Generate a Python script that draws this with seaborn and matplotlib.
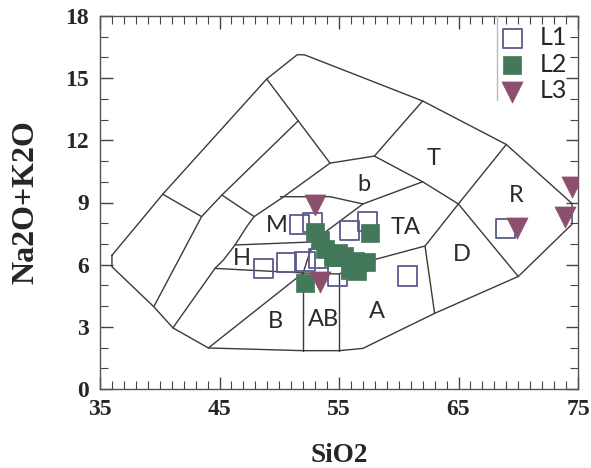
import numpy as np
import pandas as pd
import seaborn as sns
import matplotlib
matplotlib.use("Agg")
import matplotlib.pyplot as plt
from matplotlib.ticker import MultipleLocator

# ---------------- data ----------------
l1_sio2 = [51.7, 52.8, 48.7, 50.6, 52.15, 53.3, 54.9, 55.9, 57.4, 60.7, 68.9]
l1_alk = [7.92, 8.03, 5.82, 6.10, 6.14, 6.31, 5.45, 7.63, 8.07, 5.45, 7.75]

l2_sio2 = [53.0, 53.4, 53.8, 54.5, 54.9, 55.4, 56.3, 55.9, 56.5, 57.3, 57.6, 52.15]
l2_alk = [7.60, 7.20, 6.75, 6.35, 6.55, 6.40, 6.20, 5.75, 5.70, 6.15, 7.55, 5.10]

l3_sio2 = [53.0, 53.4, 69.9, 74.5, 73.9]
l3_alk = [8.88, 5.18, 7.75, 9.76, 8.32]

x_ticks = [35, 45, 55, 65, 75]
y_ticks = [0, 3, 6, 9, 12, 15, 18]

# TAS field boundaries (SiO2, Na2O+K2O)
outer_boundary = [(36.0, 6.45), (36.0, 5.9), (39.5, 3.97), (41.1, 2.95), (44.07, 1.98),
                  (52.0, 1.85), (55.0, 1.85), (57.0, 1.96), (63.0, 3.65), (70.0, 5.43),
                  (74.5, 7.95), (74.5, 8.95), (69.0, 11.8), (62.0, 13.9), (52.1, 16.13),
                  (51.5, 16.13), (48.95, 14.96), (40.25, 9.4), (36.0, 6.45)]
field_lines = [
    [(40.25, 9.4), (43.5, 8.32), (39.5, 3.97)],
    [(43.5, 8.32), (45.2, 9.36), (51.6, 12.95)],
    [(45.2, 9.36), (47.9, 8.32)],
    [(48.95, 14.96), (54.25, 10.9), (57.96, 11.24), (62.0, 13.9)],
    [(47.9, 8.32), (47.27, 7.83), (46.3, 6.95), (45.32, 6.22), (44.62, 5.82), (41.1, 2.95)],
    [(47.9, 8.32), (50.3, 9.25), (54.25, 10.9)],
    [(50.1, 9.28), (54.25, 9.28), (57.0, 8.93), (62.0, 10.0), (64.99, 8.93)],
    [(57.96, 11.24), (62.0, 10.0)],
    [(64.99, 8.93), (69.0, 11.8)],
    [(64.99, 8.93), (70.0, 5.43)],
    [(64.99, 8.93), (62.2, 6.9), (63.0, 3.65)],
    [(62.2, 6.9), (57.87, 6.23), (55.0, 5.55)],
    [(44.62, 5.82), (52.0, 5.6), (55.0, 5.55)],
    [(46.3, 6.95), (52.95, 7.1)],
    [(52.0, 5.6), (52.5, 6.5), (52.95, 7.1), (53.8, 7.55), (57.0, 8.93)],
    [(52.0, 5.6), (52.0, 1.85)],
    [(55.0, 5.55), (55.0, 1.85)],
    [(52.0, 5.6), (44.07, 1.98)],
]
field_names = ["M", "H", "b", "T", "TA", "R", "D", "A", "AB", "B"]
field_x = [49.8, 46.9, 57.1, 62.9, 60.6, 69.8, 65.3, 58.15, 53.7, 49.65]
field_y = [7.87, 6.30, 9.88, 11.13, 7.79, 9.36, 6.47, 3.73, 3.33, 3.25]

# ---------------- styling ----------------
sns.set_style("ticks")
plt.rcParams["font.family"] = ["DejaVu Sans"]

fig = plt.figure(figsize=(5.91, 4.68), dpi=100)
ax = fig.add_axes([100 / 591, 1 - 389 / 468, 478 / 591, 373 / 468])

line_col = "#3a3a3a"
for seg in [outer_boundary] + field_lines:
    xs, ys = zip(*seg)
    ax.plot(xs, ys, color=line_col, lw=1.0, zorder=1)

for name, fx, fy in zip(field_names, field_x, field_y):
    ax.text(fx, fy, name, ha="center", va="center", fontsize=17,
            family="Lato", color="#2a2a2a", zorder=2)

df1 = pd.DataFrame({"SiO2": l1_sio2, "alk": l1_alk})
df2 = pd.DataFrame({"SiO2": l2_sio2, "alk": l2_alk})
df3 = pd.DataFrame({"SiO2": l3_sio2, "alk": l3_alk})

sns.scatterplot(data=df1, x="SiO2", y="alk", marker="s", s=190, facecolor="none",
                edgecolor="#5b5a8e", linewidth=1.3, label="L1", ax=ax, zorder=3)
sns.scatterplot(data=df2, x="SiO2", y="alk", marker="s", s=180, color="#44785a",
                edgecolor="#44785a", linewidth=0.5, label="L2", ax=ax, zorder=4)
sns.scatterplot(data=df3, x="SiO2", y="alk", marker="v", s=230, color="#8c4f6e",
                edgecolor="#8c4f6e", linewidth=0.5, label="L3", ax=ax, zorder=5)

ax.set_xlim(35, 75)
ax.set_ylim(0, 18)
tick_font = dict(family="Liberation Serif", fontweight="bold", fontsize=17)
ax.set_xticks(x_ticks, labels=[str(v) for v in x_ticks], **tick_font)
ax.set_yticks(y_ticks, labels=[str(v) for v in y_ticks], **tick_font)
ax.xaxis.set_minor_locator(MultipleLocator(1))
ax.yaxis.set_minor_locator(MultipleLocator(1))
ax.tick_params(which="both", direction="in", top=True, right=True, color="#444444")
ax.tick_params(which="major", length=9, width=1.0)
ax.tick_params(which="minor", length=5.5, width=0.8)
ax.tick_params(axis="x", which="major", pad=7)
ax.tick_params(axis="y", which="major", pad=8)
for sp in ax.spines.values():
    sp.set_color("#555555")
    sp.set_linewidth(1.0)

ax.set_xlabel("SiO2", family="Liberation Serif", fontweight="bold", fontsize=19.5, labelpad=17)
ax.set_ylabel("Na2O+K2O", family="Liberation Serif", fontweight="bold", fontsize=23, labelpad=18)

leg = ax.legend(loc="upper left", bbox_to_anchor=(0.80, 1.0), frameon=False,
                prop={"family": "Lato", "size": 18}, handletextpad=0.3,
                labelspacing=0.15, handlelength=1.6, borderaxespad=0.0)
ax.plot([0.8305, 0.8305], [0.775, 1.0], transform=ax.transAxes, color="#bbbbbb",
        lw=1.0, zorder=6, clip_on=False)

fig.savefig("out.png", dpi=100)
